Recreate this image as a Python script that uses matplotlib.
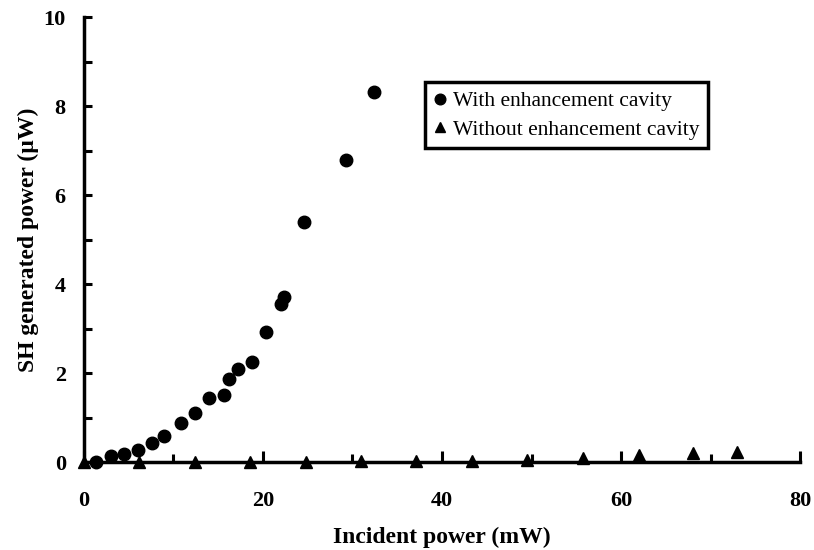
import numpy as np
import matplotlib.pyplot as plt

# data
x_cav = [1.4, 3.0, 4.5, 6.0, 7.6, 9.0, 10.9, 12.4, 14.0, 15.6, 16.2, 17.2, 18.8,
         20.3, 22.0, 22.3, 24.6, 29.3, 32.4]
y_cav = [0.0, 0.13, 0.17, 0.26, 0.43, 0.59, 0.88, 1.1, 1.43, 1.5, 1.86, 2.08, 2.24,
         2.93, 3.55, 3.70, 5.39, 6.79, 8.31]

x_nocav = [0.0, 6.2, 12.4, 18.6, 24.8, 31.0, 37.1, 43.3, 49.5, 55.7, 62.0, 68.0, 72.9]
y_nocav = [0.0, 0.0, 0.0, 0.0, 0.01, 0.02, 0.02, 0.03, 0.05, 0.1, 0.15, 0.2, 0.23]

plt.rcParams['font.family'] = ['Liberation Serif', 'DejaVu Serif']

fig = plt.figure(figsize=(8.14, 5.5), dpi=100)
ax = fig.add_axes([0.103, 0.16, 0.880, 0.809])

ax.plot(x_cav, y_cav, 'o', color='black', markersize=9, clip_on=False,
        label='With enhancement cavity')
ax.plot(x_nocav, y_nocav, '^', color='black', markersize=9, clip_on=False,
        label='Without enhancement cavity')

ax.set_xlim(0, 80)
ax.set_ylim(0, 10)
ax.set_xticks(np.arange(0, 81, 20))
ax.set_xticks(np.arange(0, 81, 10), minor=True)
ax.set_yticks(np.arange(0, 11, 2))
ax.set_yticks(np.arange(0, 11, 1), minor=True)

for s in ['top', 'right']:
    ax.spines[s].set_visible(False)
for s in ['left', 'bottom']:
    ax.spines[s].set_linewidth(2.5)

ax.tick_params(axis='x', which='major', direction='in', length=8, width=2.2, pad=21)
ax.tick_params(axis='x', which='minor', direction='in', length=6, width=2.2)
ax.tick_params(axis='y', which='both', direction='in', length=6, width=2.2, pad=13)
for lbl in ax.get_xticklabels() + ax.get_yticklabels():
    lbl.set_fontsize(16)
    lbl.set_fontweight('bold')

ax.set_xlabel('Incident power (mW)', fontsize=17, fontweight='bold')
ax.set_ylabel('SH generated power (\u00b5W)', fontsize=17, fontweight='bold')
ax.xaxis.set_label_coords(0.5, -0.145)
ax.yaxis.set_label_coords(-0.062, 0.5)

leg = ax.legend(loc='upper left', bbox_to_anchor=(0.476, 0.853), borderaxespad=0,
                fontsize=15.5, fancybox=False, framealpha=1, edgecolor='black',
                handlelength=0.6, handletextpad=0.3, borderpad=0.4,
                labelspacing=0.4, markerscale=0.85)
leg.get_frame().set_linewidth(2.5)

fig.savefig('out.png', dpi=100)
